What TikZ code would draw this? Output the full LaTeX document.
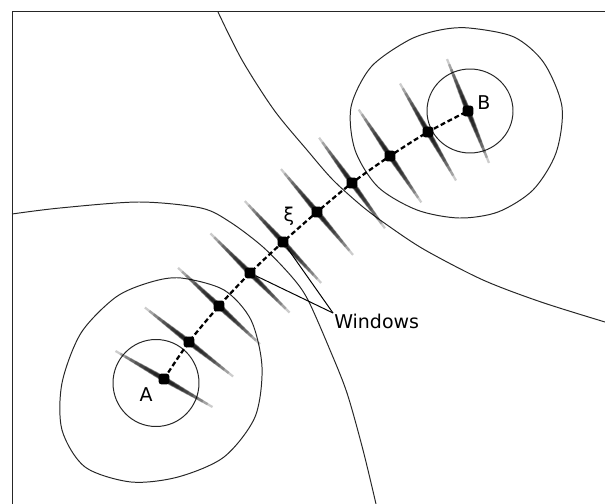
\documentclass[tikz,border=0pt]{standalone}
\usepackage{fontspec}
\setmainfont{DejaVu Sans}
\usetikzlibrary{calc}

\begin{document}
\begin{tikzpicture}[x=0.025cm, y=-0.025cm,
    contour/.style={draw=black!85, line width=0.7pt},
    mep/.style={line width=1.6pt, dash pattern=on 3.5pt off 2pt},
    win/.style={opacity=0.2},
    dot/.style={rectangle, rounded corners=2pt, fill=black, inner sep=0pt, minimum size=0.27cm},
    lbl/.style={font=\fontsize{13.5}{16}\selectfont, inner sep=0pt},
    lead/.style={line width=0.7pt},
  ]
    \useasboundingbox (0,0) rectangle (605,504);
    % frame
    \draw[contour] (605,11.5) -- (12,11.5) -- (12,504);

    % separatrices
    \draw[contour] plot[smooth] coordinates {(218,12) (242,60) (274,110) (307,150) (333,180)
      (363,207) (390,227) (425,250) (483,280) (541,302) (605,322)};
    \draw[contour] plot[smooth] coordinates {(12,214) (60,208) (139,202) (201,208) (230,222)
      (263,247) (292,277) (308,300) (330,350) (347,393) (363,450) (376,504)};

    % basins around A and B
    \draw[contour] (156,383) ellipse (43 and 43.5);
    \draw[contour] plot[smooth cycle] coordinates {(181,278) (224,290) (251,320) (262,367)
      (255,417) (224,457) (178,477) (131,482) (85,467) (62,430) (62,383) (81,333)
      (116,297) (151,282)};
    \draw[contour] (470,111) ellipse (43 and 42);
    \draw[contour] plot[smooth cycle] coordinates {(469,28) (514,37) (544,63) (562,107)
      (556,153) (533,190) (498,212) (459,218) (417,210) (378,187) (355,150) (351,107)
      (371,67) (409,40) (440,30)};

    % images along the path
    \foreach \x/\y/\n in {164/379/1, 189/342/2, 219/306/3, 250/273/4, 283/242/5,
      317/212/6, 352/183/7, 390/156/8, 428/132/9, 468/111/10}
      \node[dot] (w\n) at (\x,\y) {};

    % windows
    \foreach \n/\a in {1/30, 2/38, 3/43, 4/45, 5/47, 6/50, 7/54, 8/56, 9/60, 10/68}
      \foreach \k in {1,...,10}
        \draw[win, line width={4.4pt-0.28pt*\k}] ($(w\n)+({\a}:{-5.6*\k})$) -- ($(w\n)+({\a}:{5.6*\k})$);

    \draw[mep] plot[smooth] coordinates {(w1.center) (w2.center) (w3.center) (w4.center)
      (w5.center) (w6.center) (w7.center) (w8.center) (w9.center) (w10.center)};

    % labels
    \node[lbl] (la) at (146,395) {A};
    \node[lbl] (lb) at (484,103) {B};
    \node[lbl] (xi) at (289,216) {ξ};
    \node[lbl, anchor=west] (lw) at (334,321) {Windows};
    \coordinate (tip) at (333,313);
    \draw[lead] (tip) -- (w4);
    \draw[lead] (tip) -- (w5);
  \end{tikzpicture}
\end{document}
